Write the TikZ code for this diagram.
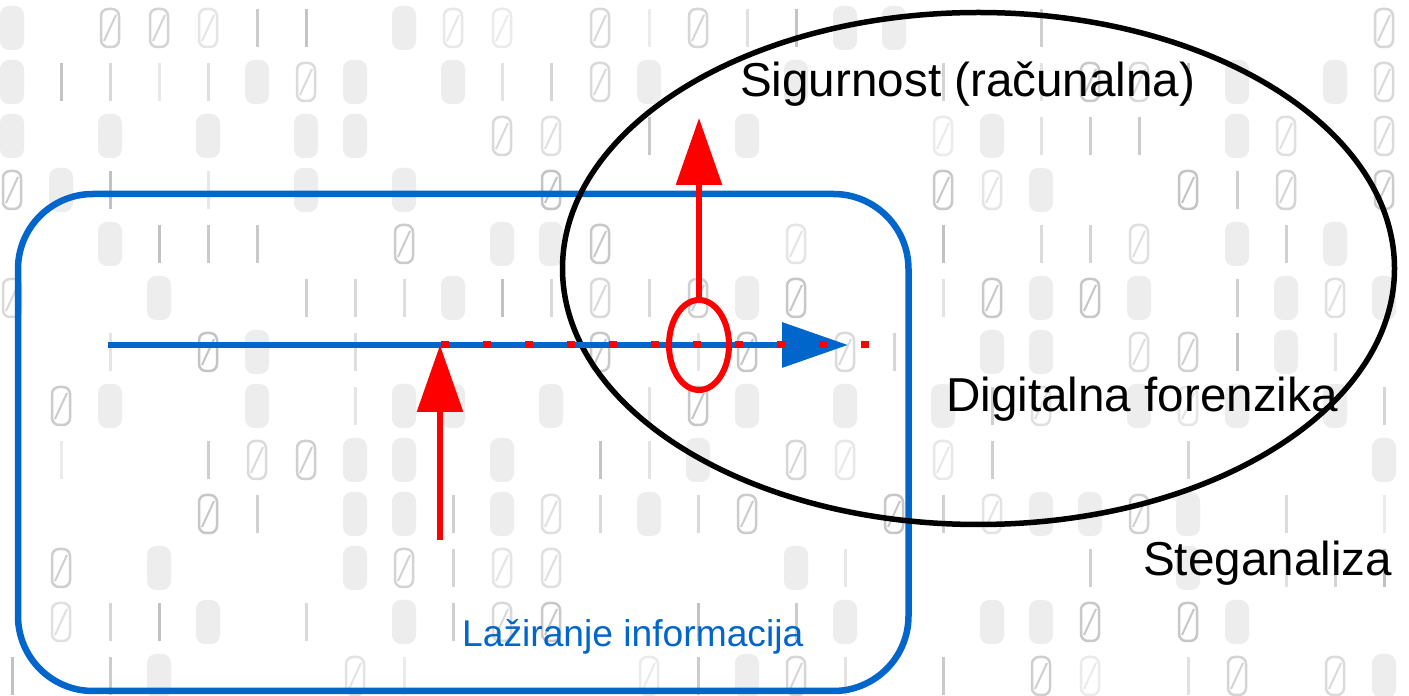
\documentclass[tikz,border=0pt]{standalone}
\usepackage{fontspec}
\setmainfont{Liberation Sans}
\usetikzlibrary{arrows.meta}
\definecolor{lblue}{HTML}{0066CC}
\definecolor{lred}{HTML}{FF0000}
\tikzset{
  bgzero/.style={line width=2.5pt, rounded corners=7pt},
  bgone/.style={line width=3pt},
  bgblur/.style={rounded corners=9pt},
  bluebox/.style={draw=lblue, line width=6.5pt, rounded corners=75pt},
  bigoval/.style={draw=black, line width=5.5pt},
  blueline/.style={draw=lblue, line width=6.5pt, -{Triangle[length=66pt,width=44pt]}},
  reddots/.style={draw=lred, line width=7pt, dash pattern=on 8pt off 34pt},
  redarrow/.style={draw=lred, line width=6pt, -{Triangle[length=67pt,width=45pt]}},
  redoval/.style={draw=lred, line width=6pt},
  label/.style={inner sep=0pt, anchor=base west, font=\fontsize{47.6}{57}\selectfont},
  bluelabel/.style={inner sep=0pt, anchor=base west, text=lblue, font=\fontsize{37.2}{45}\selectfont}
}
\begin{document}
\begin{tikzpicture}[x=1pt,y=1pt]
\useasboundingbox (0,0) rectangle (1409,696);
\fill[white] (0,0) rectangle (1409,696);
% background texture imitating blurred binary digits
\pgfmathsetseed{17}
\foreach \i in {0,...,28}{
  \foreach \j in {0,...,12}{
    \pgfmathrandominteger{\d}{0}{4}
    \pgfmathrandominteger{\g}{8}{24}
    \pgfmathsetmacro{\cx}{\i*49+12}
    \pgfmathsetmacro{\cy}{668-\j*54}
    \ifcase\d
      \draw[bgzero, draw=black!\g] (\cx-9,\cy-19) rectangle (\cx+9,\cy+19);
      \draw[bgone, line width=2pt, draw=black!\g] (\cx+6,\cy+13) -- (\cx-6,\cy-13);
    \or
      \draw[bgone, draw=black!\g] (\cx,\cy-19) -- (\cx,\cy+19);
    \or
      \fill[bgblur, black!7] (\cx-12,\cy-22) rectangle (\cx+12,\cy+22);
    \else
    \fi
  }
}
% blue rounded box
\draw[bluebox] (18,5) rectangle (908.5,502);
% black ellipse
\draw[bigoval] (978.5,427.5) ellipse [x radius=416, y radius=256];
% horizontal blue line with arrow
\coordinate (hstart) at (108,351);
\coordinate (htip) at (848,351);
\draw[blueline] (hstart) -- (htip);
% red dotted overlay
\coordinate (dstart) at (441,351);
\coordinate (dend) at (869,351);
\draw[reddots] (dstart) -- (dend);
% red arrow from bottom
\coordinate (bstart) at (440,156);
\coordinate (btip) at (440,351);
\draw[redarrow] (bstart) -- (btip);
% small red oval and upward arrow
\coordinate (ovc) at (699,351);
\draw[redoval] (ovc) ellipse [x radius=30, y radius=45];
\coordinate (ovtop) at (699,396);
\coordinate (utip) at (699,578);
\draw[redarrow] (ovtop) -- (utip);
% labels
\node[label] (sig) at (740,599) {Sigurnost (računalna)};
\node[label] (dig) at (946,284) {Digitalna forenzika};
\node[label] (steg) at (1143,120) {Steganaliza};
\node[bluelabel] (laz) at (462,49.5) {Lažiranje informacija};
\end{tikzpicture}
\end{document}
